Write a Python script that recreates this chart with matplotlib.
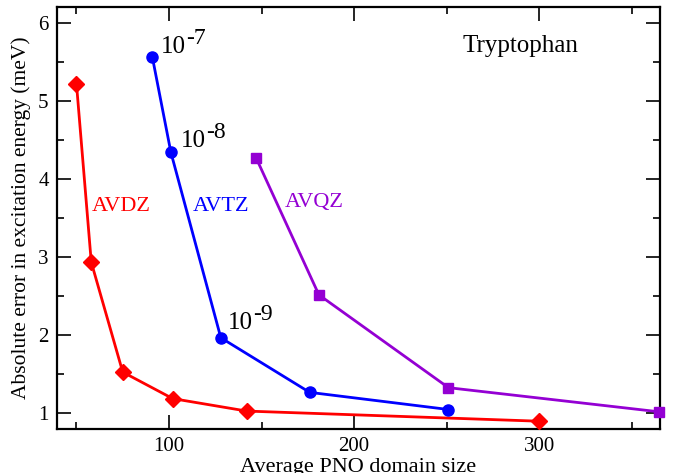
import numpy as np
import matplotlib
matplotlib.use('Agg')
import matplotlib.pyplot as plt
from matplotlib.ticker import MultipleLocator

plt.rcParams['font.family'] = ['Liberation Serif', 'DejaVu Serif']

# ---- data ----
avdz_x = [50, 58, 75, 102, 142, 300]
avdz_y = [5.23, 2.94, 1.53, 1.19, 1.03, 0.90]

avtz_x = [91, 101, 128, 176, 251]
avtz_y = [5.57, 4.35, 1.97, 1.27, 1.05]

avqz_x = [147, 181, 251, 365]
avqz_y = [4.28, 2.52, 1.33, 1.02]

thr_exps = ['-7', '-8', '-9']
thr_pos = [(95.4, 5.62), (106.3, 4.41), (131.7, 2.08)]

red = '#ff0000'
blue = '#0000ff'
violet = '#9400d3'

fig = plt.figure(figsize=(6.74, 4.73), dpi=100)
ax = fig.add_axes([0.0846, 0.093, 0.8944, 0.892])

ax.plot(avdz_x, avdz_y, '-', color=red, lw=2.0, marker='D', ms=8, clip_on=False, zorder=3)
ax.plot(avtz_x, avtz_y, '-', color=blue, lw=2.0, marker='o', ms=8, clip_on=False, zorder=3)
ax.plot(avqz_x, avqz_y, '-', color=violet, lw=2.0, marker='s', ms=6.5, clip_on=False, zorder=3)

ax.set_xlim(39.5, 365.2)
ax.set_ylim(0.80, 6.21)

ax.xaxis.set_major_locator(MultipleLocator(100))
ax.xaxis.set_minor_locator(MultipleLocator(50))
ax.yaxis.set_major_locator(MultipleLocator(1))
ax.yaxis.set_minor_locator(MultipleLocator(0.5))
ax.tick_params(which='both', direction='in', top=True, right=True, width=1.2)
ax.tick_params(which='major', length=10, labelsize=15, pad=6)
ax.tick_params(which='minor', length=5)
for sp in ax.spines.values():
    sp.set_linewidth(1.6)

ax.set_xlabel('Average PNO domain size', fontsize=16, labelpad=1)
ax.set_ylabel('Absolute error in excitation energy (meV)', fontsize=15.5, labelpad=5)

# threshold labels (10 with raised exponent) next to the AVTZ points
for (tx, ty), e in zip(thr_pos, thr_exps):
    ax.text(tx, ty, '10', fontsize=18, ha='left', va='baseline')
    ax.annotate(e, xy=(tx, ty), xytext=(18.5, 6.5), textcoords='offset points',
                fontsize=17, ha='left', va='baseline')

ax.text(58.2, 3.60, 'AVDZ', color=red, fontsize=16, ha='left', va='baseline')
ax.text(112.8, 3.60, 'AVTZ', color=blue, fontsize=16, ha='left', va='baseline')
ax.text(162.5, 3.65, 'AVQZ', color=violet, fontsize=16, ha='left', va='baseline')

ax.text(258.8, 5.63, 'Tryptophan', fontsize=18, ha='left', va='baseline')

fig.savefig('out.png', dpi=100)
